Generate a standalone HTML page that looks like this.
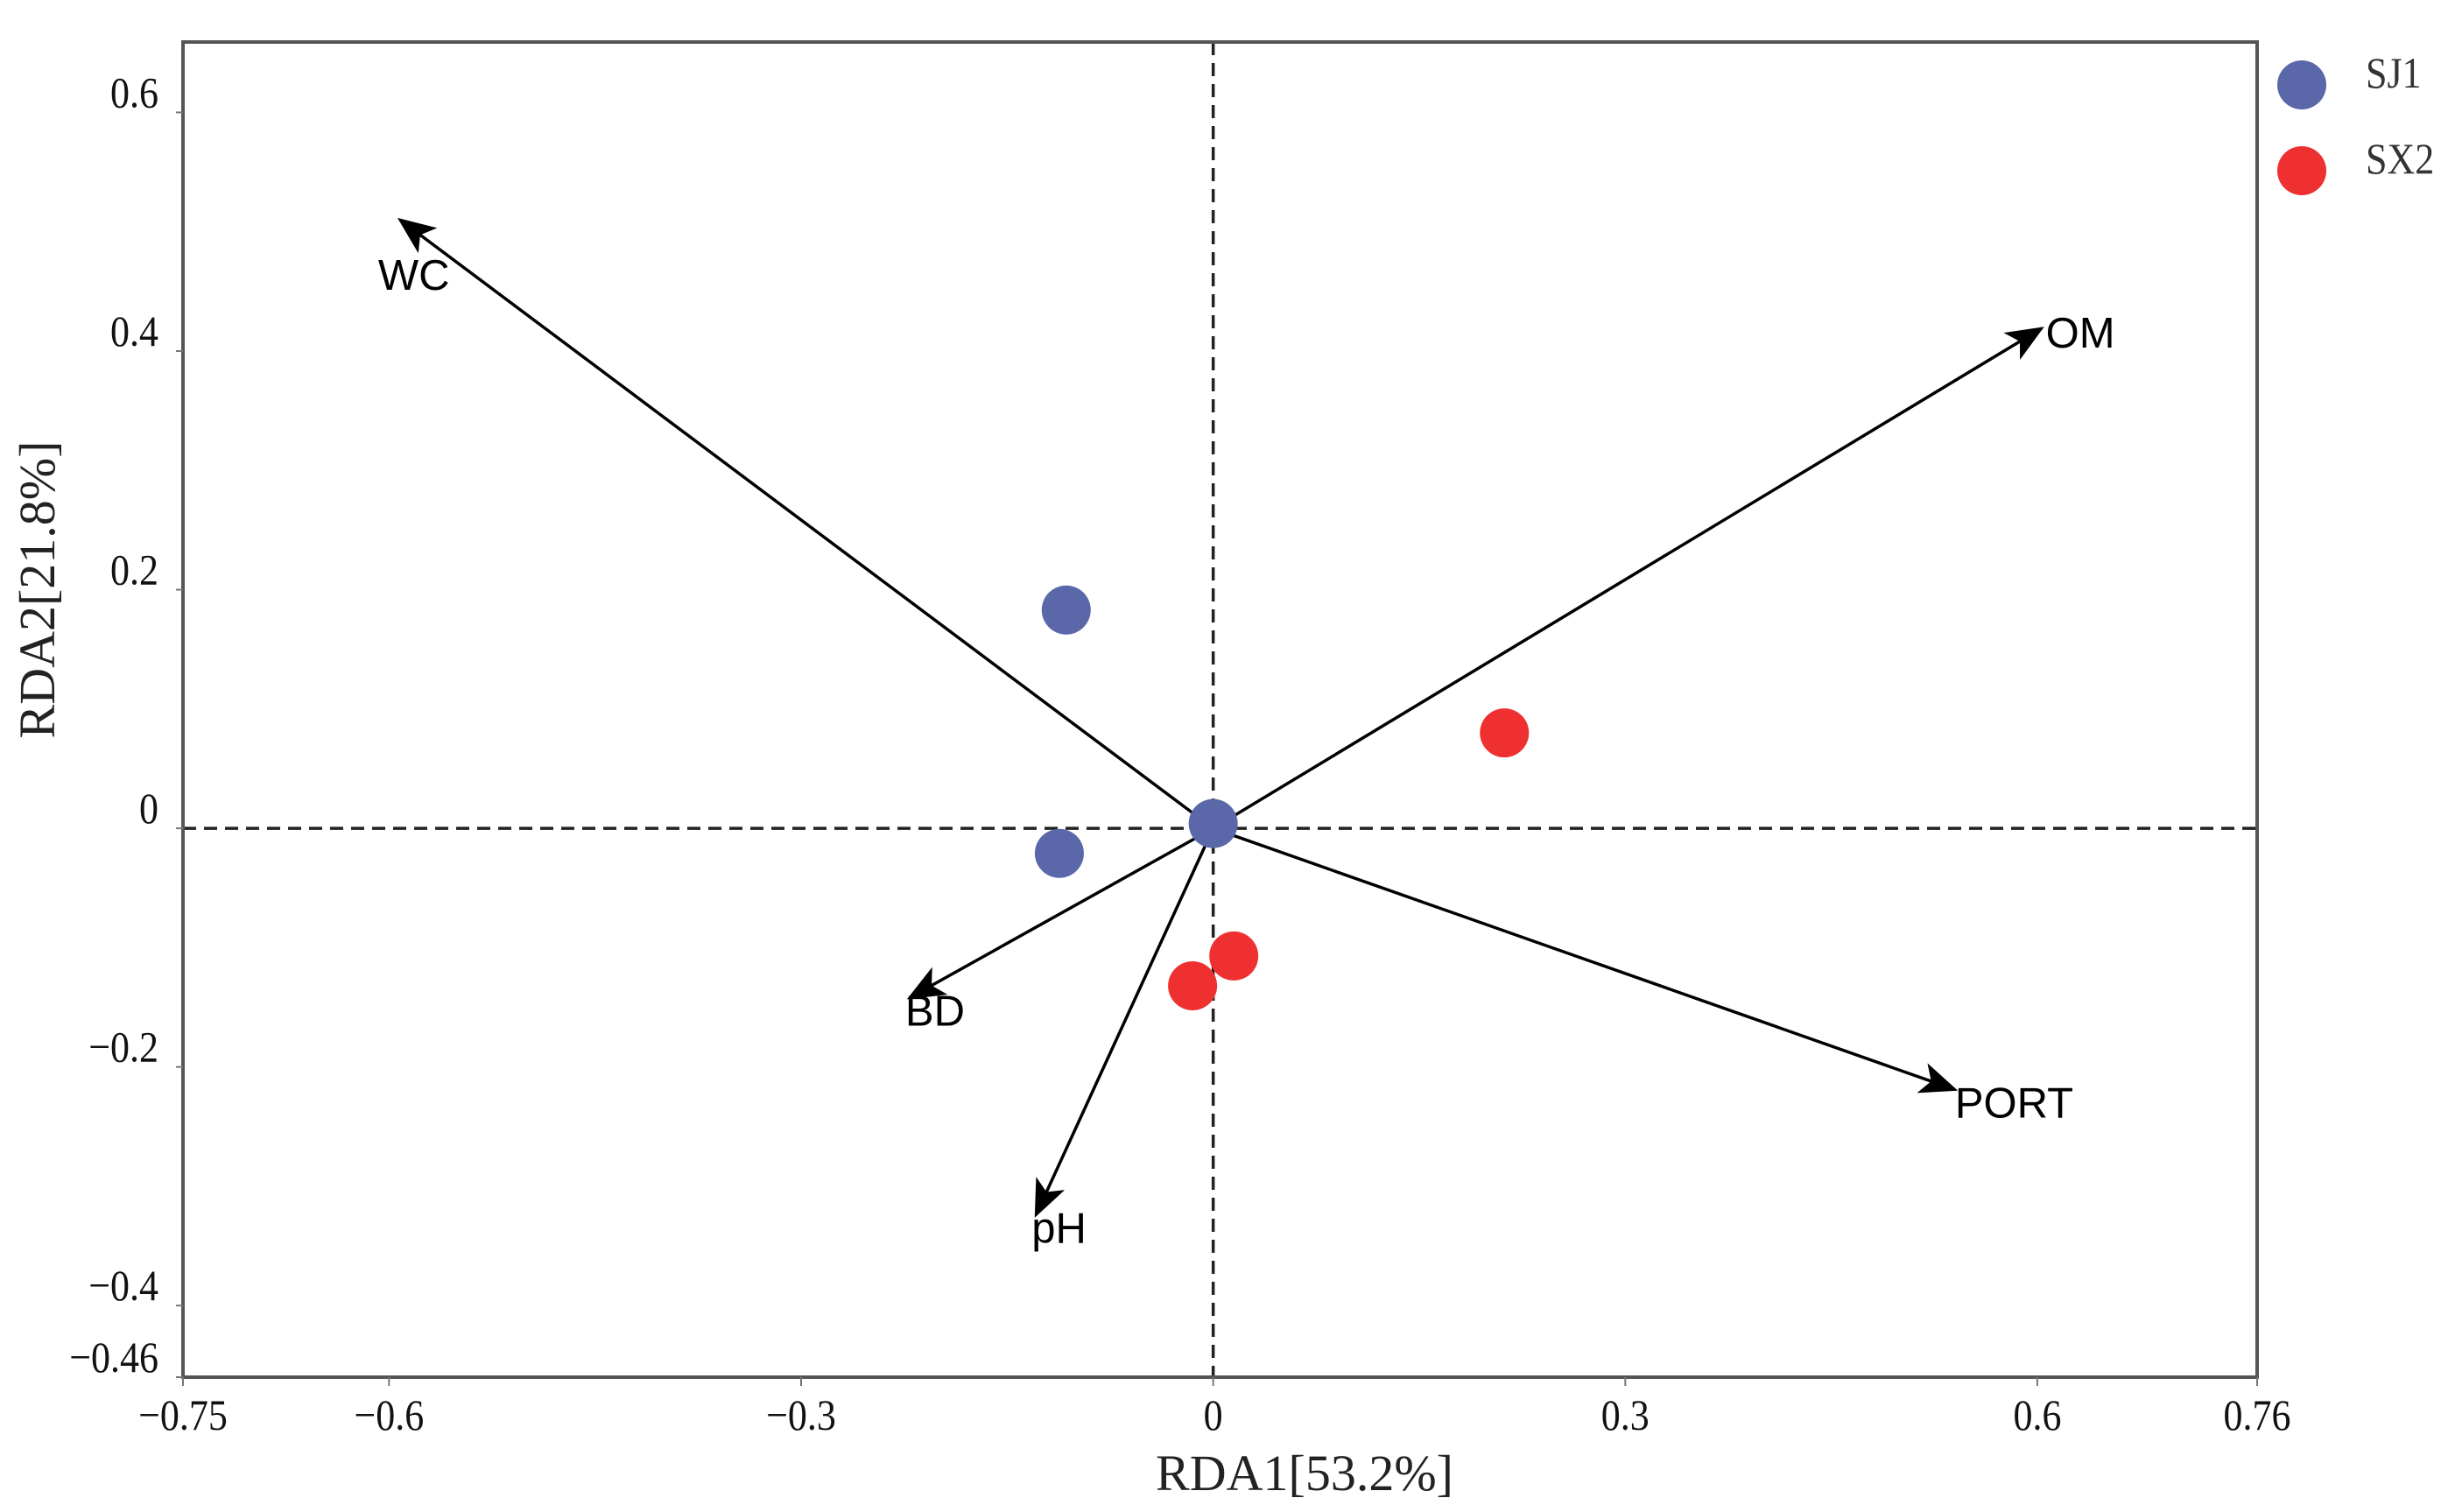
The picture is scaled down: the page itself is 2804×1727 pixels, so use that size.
<!DOCTYPE html>
<html><head><meta charset="utf-8"><style>html,body{margin:0;padding:0;background:#fff;}svg{display:block;}</style></head>
<body>
<svg id="chart" xmlns="http://www.w3.org/2000/svg" width="2804" height="1727" viewBox="0 0 2804 1727">
<defs><marker id="ah" viewBox="0 0 12 10" refX="11" refY="5" markerWidth="46" markerHeight="36" markerUnits="userSpaceOnUse" orient="auto"><path d="M0,0 L12,5 L0,10 L3,5 Z" fill="#000"/></marker></defs>
<g id="plot"></g>
</svg>
<script>
const xTicks=[-0.75,-0.6,-0.3,0,0.3,0.6,0.76];
const xTickLabels=["\u22120.75","\u22120.6","\u22120.3","0","0.3","0.6","0.76"];
const yTicks=[0.6,0.4,0.2,0,-0.2,-0.4,-0.46];
const yTickLabels=["0.6","0.4","0.2","0","\u22120.2","\u22120.4","\u22120.46"];
const sj1X=[-0.107,-0.112,0.0];
const sj1Y=[0.183,-0.021,0.004];
const sx2X=[0.212,0.015,-0.015];
const sx2Y=[0.080,-0.107,-0.132];
const envNames=["WC","OM","PORT","BD","pH"];
const envX=[-0.592,0.603,0.540,-0.221,-0.129];
const envY=[0.510,0.419,-0.219,-0.142,-0.324];

const L=209,R=2578,T=48,B=1573;
const xmin=-0.75,xmax=0.76,ymin=-0.46,ymax=0.659;
const sx=v=>L+(v-xmin)/(xmax-xmin)*(R-L);
const sy=v=>B-(v-ymin)/(ymax-ymin)*(B-T);
const NS='http://www.w3.org/2000/svg';
const g=document.getElementById('plot');
function mk(tag,attrs,parent){const e=document.createElementNS(NS,tag);for(const k in attrs)e.setAttribute(k,attrs[k]);(parent||g).appendChild(e);return e;}
const serif='"Liberation Serif", serif', sans='"Liberation Sans", sans-serif';

let e=mk('line',{x1:L,x2:R,y1:sy(0),y2:sy(0),stroke:'#222','stroke-width':3.5,'stroke-dasharray':'15 9'});


e=mk('line',{x1:sx(0),x2:sx(0),y1:T,y2:B,stroke:'#222','stroke-width':3.5,'stroke-dasharray':'15 9'});



e=mk('rect',{x:L,y:T,width:R-L,height:B-T,fill:'none',stroke:'#555','stroke-width':4});



xTicks.forEach((v,i)=>{
  let t=mk('line',{x1:sx(v),x2:sx(v),y1:B,y2:B+10,stroke:'#777','stroke-width':2});
  
  
  let tx=mk('text',{x:sx(v),y:B+60,'font-family':serif,'font-size':50,'text-anchor':'middle',fill:'#111',transform:`translate(${sx(v)},0) scale(0.88,1) translate(${-sx(v)},0)`});
  tx.textContent=xTickLabels[i];
  
  
});
yTicks.forEach((v,i)=>{
  let t=mk('line',{x1:L-8,x2:L,y1:sy(v),y2:sy(v),stroke:'#777','stroke-width':2});
  
  
  let tx=mk('text',{x:L-28,y:sy(v)-6,'font-family':serif,'font-size':50,'text-anchor':'end',fill:'#111',transform:`translate(${L-28},0) scale(0.88,1) translate(${-(L-28)},0)`});
  tx.textContent=yTickLabels[i];
  
  
});

e=mk('text',{x:1490,y:1702,'font-family':serif,'font-size':58,'text-anchor':'middle',fill:'#222'});
e.textContent='RDA1[53.2%]';


e=mk('text',{x:0,y:0,'font-family':serif,'font-size':58,'text-anchor':'middle',fill:'#222',transform:`translate(62,${sy(0.2)}) rotate(-90)`});
e.textContent='RDA2[21.8%]';



const labelOff=[[-25,80],[5,22],[0,32],[-5,32],[-5,32]];
envNames.forEach((n,i)=>{
  let a=mk('line',{x1:sx(0),y1:sy(0),x2:sx(envX[i]),y2:sy(envY[i]),stroke:'#000','stroke-width':3.5,'marker-end':'url(#ah)'});
  
  
  let t=mk('text',{x:sx(envX[i])+labelOff[i][0],y:sy(envY[i])+labelOff[i][1],'font-family':sans,'font-size':49,fill:'#000'});
  t.textContent=n;
  
  
});

sj1X.forEach((v,i)=>{
  let c=mk('circle',{cx:sx(v),cy:sy(sj1Y[i]),r:28,fill:'#5a67a8'});
  
  
});
sx2X.forEach((v,i)=>{
  let c=mk('circle',{cx:sx(v),cy:sy(sx2Y[i]),r:28,fill:'#ee3030'});
  
  
});

[['SJ1','#5a67a8',97],['SX2','#ee3030',195]].forEach(d=>{
  let c=mk('circle',{cx:2629,cy:d[2],r:28,fill:d[1]});
  
  
  let t=mk('text',{x:2702,y:d[2]+3,'font-family':serif,'font-size':50,fill:'#333',transform:`translate(2702,0) scale(0.88,1) translate(-2702,0)`});
  t.textContent=d[0];
  
  
});
</script>
</body></html>
